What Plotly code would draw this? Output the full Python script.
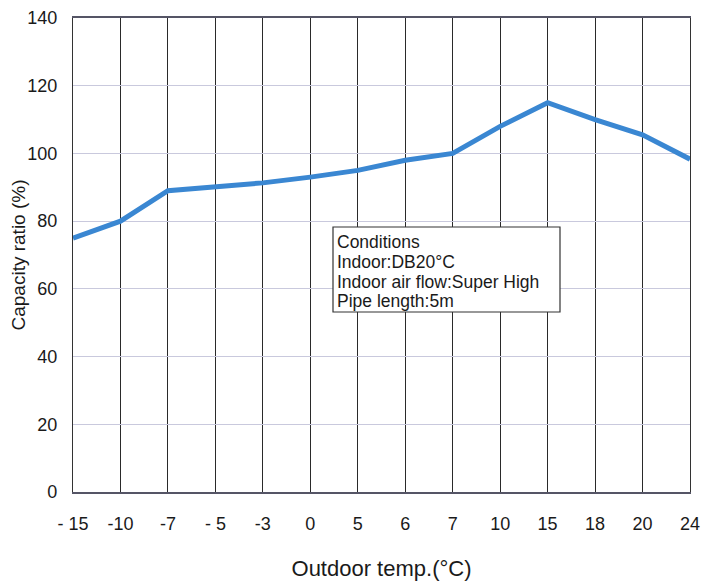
import plotly.graph_objects as go

categories = ["- 15", "-10", "-7", "- 5", "-3", "0", "5", "6", "7", "10", "15", "18", "20", "24"]
capacity = [75, 80, 89, 90.3, 91.3, 93, 95, 98, 100, 108, 115, 110, 105.5, 98.3]
y_ticks = [0, 20, 40, 60, 80, 100, 120, 140]
condition_lines = ["Conditions", "Indoor:DB20°C", "Indoor air flow:Super High", "Pipe length:5m"]

fig = go.Figure()
fig.add_trace(go.Scatter(
    x=categories, y=capacity, mode="lines",
    line=dict(color="#3a87d2", width=5),
    showlegend=False, hoverinfo="skip",
))

font = dict(family="Liberation Sans, Arial, sans-serif", color="#1a1a1a")

# page has ~8px body offset; plot area targeted at x 73..690, y 18..492
PL, PT, PW, PH = 73, 18, 617, 474
OFF = 8

fig.update_layout(
    width=713, height=583,
    margin=dict(l=PL - OFF, r=713 - (PL - OFF) - PW, t=PT - OFF, b=583 - (PT - OFF) - PH),
    paper_bgcolor="white", plot_bgcolor="white",
    font=dict(**font, size=18),
    xaxis=dict(
        type="category", range=[0, 13], automargin=False,
        showgrid=True, gridcolor="#2a2a2a", gridwidth=1.2,
        showline=True, linecolor="#555566", linewidth=1.5, mirror=True,
        ticks="", ticklabelstandoff=15, ticklabeloverflow="allow",
        tickfont=dict(size=18),
        title=dict(text="Outdoor temp.(°C)", font=dict(size=22), standoff=27),
        zeroline=False,
    ),
    yaxis=dict(
        range=[0, 140], tickvals=y_ticks, automargin=False,
        showgrid=True, gridcolor="#c9c9dd", gridwidth=1.2,
        showline=True, linecolor="#333333", linewidth=1.2, mirror=True,
        ticks="", ticklabelstandoff=11, ticklabeloverflow="allow",
        tickfont=dict(size=18),
        title=dict(text="Capacity ratio (%)", font=dict(size=19), standoff=9),
        zeroline=False,
    ),
)

def px_x(px):
    return (px - PL) / PW

def px_y(py):
    return 1 - (py - PT) / PH

fig.add_shape(
    type="rect", xref="paper", yref="paper",
    x0=px_x(333), x1=px_x(560), y0=px_y(227), y1=px_y(312),
    line=dict(color="#333333", width=1.2), fillcolor="white", layer="above",
)
for i, line in enumerate(condition_lines):
    fig.add_annotation(
        xref="paper", yref="paper", x=px_x(336), y=px_y(242 + i * 19.8),
        xanchor="left", yanchor="middle", align="left", showarrow=False,
        text=line, font=dict(size=17.5, color="#1a1a1a"), borderpad=0,
    )

fig.write_html("out.html")
